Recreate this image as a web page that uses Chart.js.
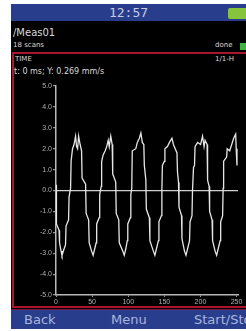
<!DOCTYPE html>
<html><head><meta charset="utf-8">
<script src="https://cdn.jsdelivr.net/npm/chart.js@4/dist/chart.umd.min.js"></script>
<style>
html,body{margin:0;padding:0;background:#fff;width:246px;height:331px;overflow:hidden;font-family:"DejaVu Sans",sans-serif;}
#screen{position:absolute;left:11px;top:4px;width:235px;height:325px;background:#000;overflow:hidden;}
#topbar{position:absolute;left:0;top:0;width:235px;height:17px;background:#283d8c;}
#clock{position:absolute;left:0;width:235px;top:0;text-align:center;color:#c8cbe0;font:13px "DejaVu Sans Mono",monospace;line-height:17px;}
#batt{position:absolute;left:217px;top:4px;width:22px;height:11px;background:#86c43e;border-radius:2px;}
.t{position:absolute;color:#d8d8d8;white-space:nowrap;}
.r{position:absolute;background:#a8182a;}
#botbar{position:absolute;left:0;top:305px;width:235px;height:20px;background:#283d8c;border-top:1px solid #7a1a40;box-sizing:border-box;}
.b{position:absolute;top:0;color:#a9b6dc;font:13px "DejaVu Sans",sans-serif;line-height:19px;}
#dot{position:absolute;left:229px;top:39px;width:7px;height:7px;background:#3fb33f;}
#wrap{position:absolute;left:14px;top:75px;width:232px;height:233px;}
</style></head>
<body>
<div id="screen">
  <div id="topbar"><div id="clock">12:57</div><div id="batt"></div></div>
  <div class="t" style="left:2px;top:23px;font-size:10px;">/Meas01</div>
  <div class="t" style="left:2px;top:37px;font-size:7px;">18 scans</div>
  <div class="t" style="left:204px;top:37px;font-size:7px;">done</div>
  <div id="dot"></div>
  <div class="r" style="left:1px;top:48px;width:234px;height:2px;"></div>
  <div class="r" style="left:1px;top:48px;width:2px;height:256px;"></div>
  <div class="r" style="left:1px;top:302px;width:234px;height:2px;"></div>
  <div class="t" style="left:4px;top:51px;font-size:7px;">TIME</div>
  <div class="t" style="left:204px;top:51px;font-size:7px;">1/1-H</div>
  <div class="t" style="left:3px;top:63px;font-size:8px;">t: 0 ms; Y: 0.269 mm/s</div>
  <div id="botbar">
    <div class="b" style="left:13px;">Back</div>
    <div class="b" style="left:100px;">Menu</div>
    <div class="b" style="left:183px;">Start/Stop</div>
  </div>
</div>
<div id="wrap"><canvas id="c"></canvas></div>
<script>
const times = [0,0.4,0.8,4.2,4.9,7.0,8.3,11.1,13.2,13.9,17.4,18.1,20.2,20.9,22.9,25.0,27.1,28.5,29.9,31.3,33.4,35.4,36.1,41.0,41.7,45.2,45.9,49.3,51.4,53.5,55.6,56.3,59.8,60.5,62.6,63.2,65.3,68.1,70.2,72.3,73.7,75.8,77.8,78.5,82.7,83.4,86.9,87.6,92.4,94.5,96.6,98.7,99.4,102.9,103.6,104.9,105.6,110.5,112.6,115.4,117.5,119.5,121.6,122.3,124.4,125.1,129.3,130.0,134.8,136.9,139.0,141.8,142.5,146.0,146.6,147.3,150.1,150.8,154.3,157.1,160.5,162.6,167.5,168.2,169.6,170.3,173.8,174.4,177.9,180.0,182.1,184.9,185.6,188.3,189.0,190.4,191.8,192.5,196.0,200.2,202.9,205.0,206.4,209.2,209.9,212.0,212.7,216.1,216.8,220.3,222.4,224.5,227.3,228.0,230.7,231.4,232.1,236.3,237.0,240.5,243.3,246.0,248.8,249.5,250.6];
const velocity = [0.27,-0.3,-1.6,-1.9,-2.5,-2.9,-3.1,-2.8,-2.6,-1.7,-1.4,-0.3,0.1,1.4,2.0,2.2,2.6,2.1,2.0,2.6,2.2,1.9,0.6,0.3,-1.1,-1.4,-2.5,-2.9,-3.1,-2.8,-2.5,-1.6,-1.3,-0.2,0.2,1.4,1.7,1.9,2.1,2.4,2.1,2.6,2.2,0.8,0.4,-1.1,-1.4,-2.5,-2.9,-3.1,-2.8,-2.4,-1.6,-1.3,-0.2,0.1,1.9,2.0,2.3,2.5,2.75,2.3,2.2,1.2,0.5,-0.9,-1.3,-2.4,-2.9,-3.1,-2.8,-2.4,-1.5,-1.2,0,1.2,1.4,2.0,2.1,2.3,2.5,2.2,1.8,0.9,0.4,-0.8,-1.2,-2.3,-2.9,-3.1,-2.8,-2.4,-1.5,-1.2,0,1.1,1.2,2.1,2.3,2.2,2.6,2.1,2.4,2.2,0.5,0.2,-1.0,-1.4,-2.4,-2.9,-3.1,-2.8,-2.4,-1.5,-1.2,0.1,1.4,1.6,2.0,1.9,2.2,2.5,2.7,2.0,1.2];
const xTicks = [0,50,100,150,200,250];
const yTicks = [5,4,3,2,1,0,-1,-2,-3,-4,-5];

const pts = times.map((t,i)=>({x:t,y:velocity[i]}));
new Chart(document.getElementById('c'),{
  type:'line',
  data:{datasets:[{data:pts,borderColor:'#e6e6e6',borderWidth:1.3,pointRadius:0,tension:0,fill:false}]},
  options:{
    responsive:true,maintainAspectRatio:false,animation:false,
    layout:{padding:{top:11,right:8,left:0,bottom:0}},
    plugins:{legend:{display:false},tooltip:{enabled:false}},
    scales:{
      x:{type:'linear',min:0,max:252,
        afterBuildTicks:s=>{s.ticks=xTicks.map(v=>({value:v}));},
        ticks:{color:'#b0b0b0',font:{size:7,family:'Liberation Sans'},padding:1,maxRotation:0,autoSkip:false},
        grid:{drawOnChartArea:false,tickLength:2,tickColor:'#999'},
        border:{color:'#b8b8b8',width:1.5},
        afterFit:s=>{s.height=13;}
      },
      y:{min:-5,max:5,
        afterBuildTicks:s=>{s.ticks=yTicks.map(v=>({value:v}));},
        ticks:{color:'#b0b0b0',font:{size:7,family:'Liberation Sans'},padding:1,callback:v=>v.toFixed(1)},
        grid:{color:c=>c.tick&&c.tick.value===0?'#d0d0d0':'rgba(0,0,0,0)',lineWidth:1.2,tickLength:3,tickColor:'#999'},
        border:{color:'#b8b8b8',width:1.5},
        afterFit:s=>{s.width=42;}
      }
    }
  }
});
</script>
</body></html>
